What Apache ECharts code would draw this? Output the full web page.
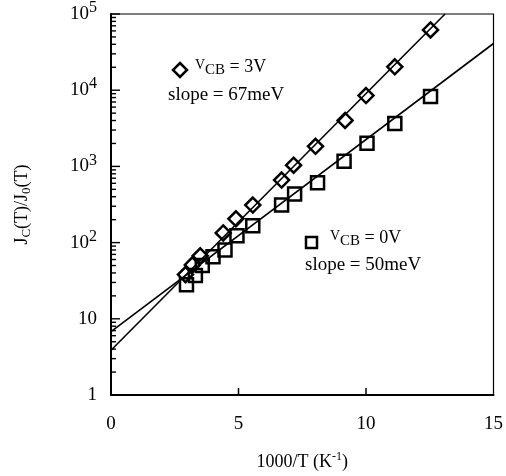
<!DOCTYPE html>
<html>
<head>
<meta charset="utf-8">
<script src="https://cdn.jsdelivr.net/npm/echarts@6/dist/echarts.min.js"></script>
<style>
  html, body { margin: 0; padding: 0; background: #fff; }
  #main { width: 506px; height: 476px; }
</style>
</head>
<body>
<div id="main"></div>
<script>
// V_CB = 3V (diamonds)
var invT3V = [2.92, 3.19, 3.5, 4.4, 4.9, 5.56, 6.69, 7.16, 8.02, 9.18, 10.0, 11.13, 12.53];
var ratio3V = [38, 51, 67, 134, 205, 311, 661, 1037, 1835, 4010, 8500, 20300, 61800];
// V_CB = 0V (squares)
var invT0V = [2.96, 3.31, 3.58, 4.0, 4.47, 4.94, 5.56, 6.69, 7.2, 8.1, 9.14, 10.04, 11.13, 12.53];
var ratio0V = [28, 37, 50, 65, 80, 123, 166, 311, 433, 610, 1170, 2010, 3660, 8250];
// fitted lines (end points)
var fit3V = [[0, 3.87], [13.1, 100000]];
var fit0V = [[0, 6.8], [15, 41000]];

var xTicks = [5, 10];
var yTicks = [1, 10, 100, 1000, 10000, 100000];

var FONT = "Liberation Serif";

function pairs(xs, ys) {
    var out = [];
    for (var i = 0; i < xs.length; i++) {
        out.push([xs[i], ys[i]]);
    }
    return out;
}

// minor ticks 2..9 in each decade
var minorTicks = [];
for (var d = 0; d < 5; d++) {
    for (var m = 2; m <= 9; m++) {
        minorTicks.push(m * Math.pow(10, d));
    }
}

// tick marks drawn inward, through the axis scales
function yTickRenderer(len) {
    return function (params, api) {
        var p = api.coord([api.value(0), api.value(1)]);
        return {
            type: "line",
            shape: { x1: p[0], y1: p[1], x2: p[0] + len, y2: p[1] },
            style: { stroke: "#000", lineWidth: 1.4 }
        };
    };
}

function xTickRenderer(len) {
    return function (params, api) {
        var p = api.coord([api.value(0), api.value(1)]);
        return {
            type: "line",
            shape: { x1: p[0], y1: p[1], x2: p[0], y2: p[1] - len },
            style: { stroke: "#000", lineWidth: 1.5 }
        };
    };
}

var chart = echarts.init(document.getElementById("main"));

var option = {
    backgroundColor: "#fff",
    animation: false,
    textStyle: { fontFamily: FONT, color: "#000" },
    grid: {
        left: 111, right: 10, top: 14, bottom: 79,
        show: true, borderColor: "#000", borderWidth: 1.2
    },
    xAxis: {
        type: "value",
        min: 0, max: 15, interval: 5,
        axisLine: { show: true, lineStyle: { color: "#000", width: 2 } },
        axisTick: { show: false },
        axisLabel: { color: "#000", fontFamily: FONT, fontSize: 19, margin: 20 },
        splitLine: { show: false },
        name: "1000/T (K{sup|-1})",
        nameLocation: "middle",
        nameGap: 56,
        nameTextStyle: {
            color: "#000", fontFamily: FONT, fontSize: 18,
            rich: { sup: { fontFamily: FONT, fontSize: 12, verticalAlign: "top", padding: [0, 0, 10, 0] } }
        }
    },
    yAxis: {
        type: "log",
        logBase: 10,
        min: 1, max: 100000,
        axisLine: { show: true, lineStyle: { color: "#000", width: 2 } },
        axisTick: { show: false },
        axisLabel: {
            color: "#000", fontFamily: FONT, fontSize: 19, margin: 14,
            formatter: function (v) {
                var p = Math.round(Math.log10(v));
                if (p === 0) return "1";
                if (p === 1) return "10";
                return "10{sup|" + p + "}";
            },
            rich: { sup: { fontFamily: FONT, fontSize: 16, padding: [0, 0, 12, 0] } }
        },
        splitLine: { show: false },
        name: "J{sub|C}(T)/J{sub|0}(T)",
        nameLocation: "middle",
        nameRotate: 90,
        nameGap: 78,
        nameTextStyle: {
            color: "#000", fontFamily: FONT, fontSize: 18,
            rich: { sub: { fontFamily: FONT, fontSize: 13, padding: [8, 0, 0, 0] } }
        }
    },
    series: [{
        name: "y major ticks",
        type: "custom",
        data: yTicks.map(function (v) { return [0, v]; }),
        renderItem: yTickRenderer(9),
        clip: false,
        silent: true,
        z: 5
    }, {
        name: "y minor ticks",
        type: "custom",
        data: minorTicks.map(function (v) { return [0, v]; }),
        renderItem: yTickRenderer(5),
        clip: false,
        silent: true,
        z: 5
    }, {
        name: "x ticks",
        type: "custom",
        data: xTicks.map(function (v) { return [v, 1]; }),
        renderItem: xTickRenderer(7),
        clip: false,
        silent: true,
        z: 5
    }, {
        name: "fit 3V",
        type: "line",
        data: fit3V,
        symbol: "none",
        clip: true,
        lineStyle: { color: "#000", width: 1.6 },
        z: 2
    }, {
        name: "fit 0V",
        type: "line",
        data: fit0V,
        symbol: "none",
        clip: true,
        lineStyle: { color: "#000", width: 1.6 },
        z: 2
    }, {
        name: "VCB = 3V",
        type: "scatter",
        data: pairs(invT3V, ratio3V),
        symbol: "diamond",
        symbolSize: 15,
        itemStyle: { color: "none", borderColor: "#000", borderWidth: 2.5, opacity: 1 },
        z: 3
    }, {
        name: "VCB = 0V",
        type: "scatter",
        data: pairs(invT0V, ratio0V),
        symbol: "rect",
        symbolSize: 13,
        itemStyle: { color: "none", borderColor: "#000", borderWidth: 2.5, opacity: 1 },
        z: 3
    }],
    graphic: [
        // 3V annotation
        {
            type: "polygon",
            shape: { points: [[180, 63], [187, 70], [180, 77], [173, 70]] },
            style: { fill: "none", stroke: "#000", lineWidth: 2.5 }
        },
        {
            type: "text", left: 195, top: 58,
            style: {
                text: "{v|V}{sub|CB}{n| = 3V}",
                fill: "#000",
                rich: {
                    v: { fontFamily: FONT, fontSize: 14, padding: [0, 0, 4, 0] },
                    sub: { fontFamily: FONT, fontSize: 15, padding: [6, 0, 0, 0] },
                    n: { fontFamily: FONT, fontSize: 18 }
                }
            }
        },
        {
            type: "text", left: 168, top: 86,
            style: { text: "slope = 67meV", fill: "#000", font: "19px " + FONT }
        },
        // 0V annotation
        {
            type: "rect",
            shape: { x: 306, y: 237, width: 11, height: 11 },
            style: { fill: "none", stroke: "#000", lineWidth: 2.5 }
        },
        {
            type: "text", left: 330, top: 229,
            style: {
                text: "{v|V}{sub|CB}{n| = 0V}",
                fill: "#000",
                rich: {
                    v: { fontFamily: FONT, fontSize: 14, padding: [0, 0, 4, 0] },
                    sub: { fontFamily: FONT, fontSize: 15, padding: [6, 0, 0, 0] },
                    n: { fontFamily: FONT, fontSize: 18 }
                }
            }
        },
        {
            type: "text", left: 305, top: 256,
            style: { text: "slope = 50meV", fill: "#000", font: "19px " + FONT }
        }
    ]
};

chart.setOption(option);
</script>
</body>
</html>
